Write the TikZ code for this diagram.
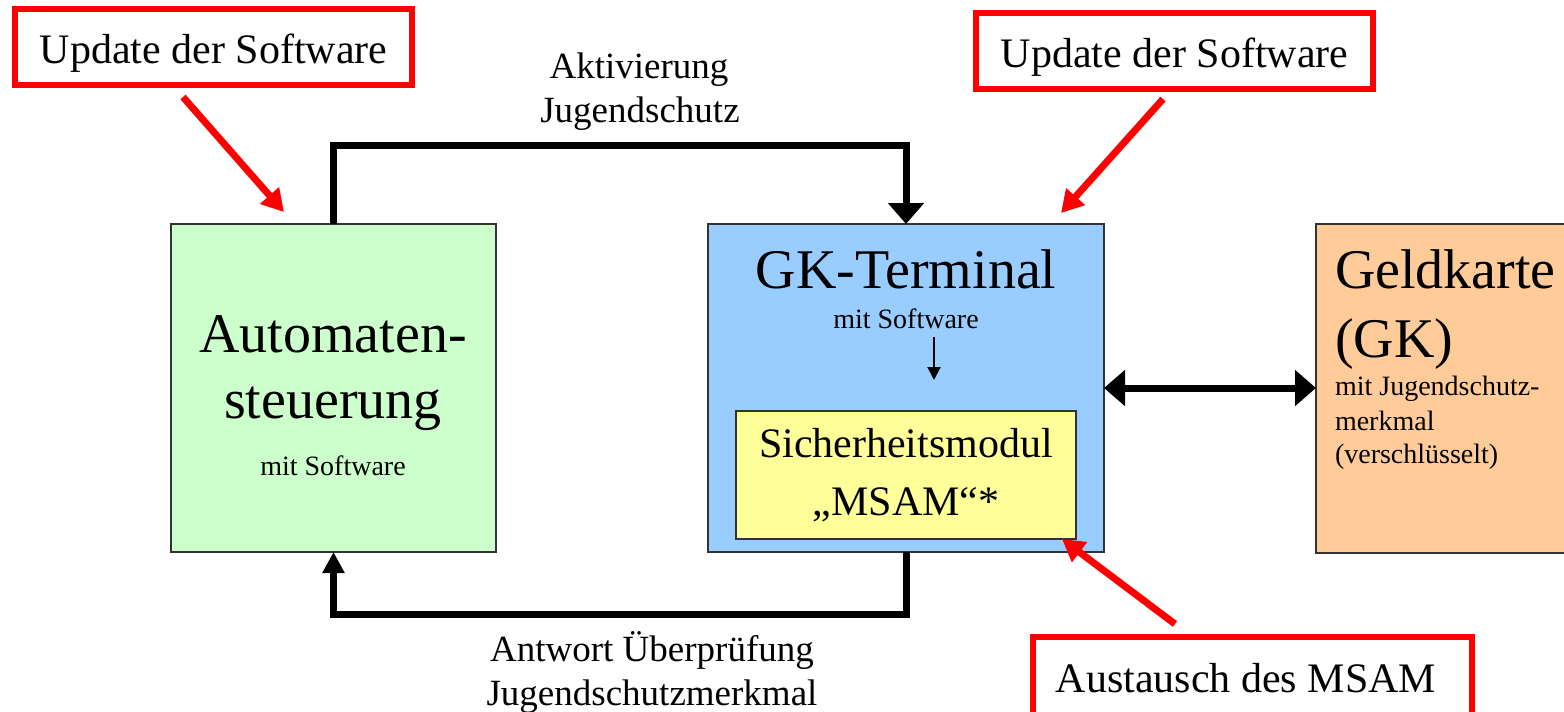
\documentclass[tikz,border=0pt]{standalone}
\usepackage{fontspec}
\setmainfont{Liberation Serif}
\usetikzlibrary{arrows.meta}
\definecolor{boxgreen}{HTML}{CCFFCC}
\definecolor{boxblue}{HTML}{99CCFF}
\definecolor{boxyellow}{HTML}{FFFF99}
\definecolor{boxorange}{HTML}{FFCC99}
\definecolor{pureRed}{HTML}{FF0000}
\tikzset{
  blockbox/.style={draw=black!80, line width=1.5pt, inner sep=0pt, outer sep=0pt},
  redbox/.style={draw=pureRed, line width=6.5pt, fill=white, inner sep=0pt, outer sep=0pt, minimum width=397pt, minimum height=76pt},
  txt/.style={inner sep=0pt, outer sep=0pt, anchor=base},
  big/.style={font=\fontsize{56}{66}\selectfont},
  mid/.style={font=\fontsize{42}{50}\selectfont},
  lab/.style={font=\fontsize{37}{45}\selectfont},
  small/.style={font=\fontsize{28}{34}\selectfont},
  conn/.style={line width=7pt, draw=black},
  redarrow/.style={line width=7pt, draw=pureRed, -{Triangle[width=24pt,length=22pt]}},
}
\begin{document}
\begin{tikzpicture}[x=1pt, y=-1pt]
\useasboundingbox (0,0) rectangle (1564,712);
\clip (0,0) rectangle (1564,712);

% red boxes
\node[redbox] (upd1) at (213.5,47) {};
\node[txt, mid] (upd1t) at (213.5,63) {Update der Software};
\node[redbox] (upd2) at (1174.5,51) {};
\node[txt, mid] (upd2t) at (1174.5,67) {Update der Software};
\node[redbox, minimum width=439pt, minimum height=123pt] (aus) at (1252.5,698.5) {};
\node[txt, mid] (aust) at (1246,692) {Austausch des MSAM};

% main boxes
\node[blockbox, fill=boxgreen, minimum width=325pt, minimum height=328pt] (auto) at (333.5,388) {};
\node[blockbox, fill=boxblue, minimum width=396pt, minimum height=328pt] (gk) at (906,388) {};
\node[blockbox, fill=boxyellow, minimum width=340pt, minimum height=128pt] (sam) at (906,475) {};
\node[blockbox, fill=boxorange, minimum width=284pt, minimum height=329pt] (gc) at (1458,388.5) {};

% texts in boxes
\node[txt, big] (a1) at (333,352) {Automaten-};
\node[txt, big] (a2) at (333,418) {steuerung};
\node[txt, small] (a3) at (333,475) {mit Software};

\node[txt, big] (g1) at (906,288) {GK-Terminal};
\node[txt, small] (g2) at (906,328) {mit Software};

\node[txt, mid] (s1) at (906,457) {Sicherheitsmodul};
\node[txt, mid] (s2) at (906,515) {„MSAM“*};

\node[txt, big, anchor=base west] (c1) at (1335,288) {Geldkarte};
\node[txt, big, anchor=base west] (c2) at (1335,357) {(GK)};
\node[txt, small, anchor=base west] (c3) at (1335,395) {mit Jugendschutz-};
\node[txt, small, anchor=base west] (c4) at (1335,430) {merkmal};
\node[txt, small, anchor=base west] (c5) at (1335,463) {(verschlüsselt)};

% connector labels
\node[txt, lab] (l1) at (639,78) {Aktivierung};
\node[txt, lab] (l2) at (640,122) {Jugendschutz};
\node[txt, lab] (l3) at (652,661) {Antwort Überprüfung};
\node[txt, lab] (l4) at (652,705) {Jugendschutzmerkmal};

% connectors
\draw[conn, -{Triangle[width=35pt,length=21pt]}] (auto.north) -- ++(0,-79) -| (gk.north);
\draw[conn, -{Triangle[width=21pt,length=21pt]}] (gk.south) -- ++(0,62) -| (auto.south);
\draw[conn, {Triangle[width=35pt,length=21pt]}-{Triangle[width=35pt,length=21pt]}] (gk.east) -- (gk.east -| gc.west);

% small arrow inside terminal
\coordinate (sa1) at (934,337);
\coordinate (sa2) at (934,380);
\draw[line width=2pt, -{Triangle[width=13pt,length=13pt]}] (sa1) -- (sa2);

% red arrows
\coordinate (r1s) at (183,97);
\coordinate (r1e) at (284,212);
\coordinate (r2s) at (1163,99);
\coordinate (r2e) at (1061,213);
\coordinate (r3s) at (1175,624);
\coordinate (r3e) at (1062,539);
\draw[redarrow] (r1s) -- (r1e);
\draw[redarrow] (r2s) -- (r2e);
\draw[redarrow] (r3s) -- (r3e);
\end{tikzpicture}
\end{document}
